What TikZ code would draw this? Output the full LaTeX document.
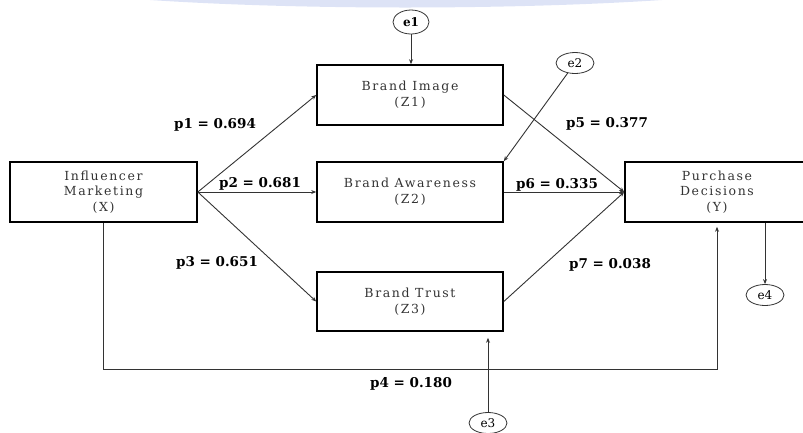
\documentclass[tikz,border=0pt]{standalone}
\usepackage{fontspec}
\setmainfont{DejaVu Serif}
\newfontfamily\boxfont[LetterSpace=13]{DejaVu Serif}
\usepackage{xcolor}
\usepackage{tikz}
\usetikzlibrary{shapes.geometric, arrows.meta, positioning, calc}
\definecolor{boxtext}{HTML}{333333}
\definecolor{linegray}{HTML}{333333}
\definecolor{bannerblue}{HTML}{DDE3F6}
\tikzset{
  varbox/.style={
    draw, line width=1.6pt, rectangle, align=center,
    font=\boxfont\fontsize{12.5}{14}\selectfont, text=boxtext,
    minimum width=186pt, minimum height=60pt, inner sep=0pt
  },
  errnode/.style={
    draw, ellipse, line width=0.8pt, draw=linegray,
    font=\fontsize{12}{13}\selectfont, minimum width=38pt,
    minimum height=21pt, inner sep=0pt
  },
  patharrow/.style={
    -{Stealth[length=5pt, width=4pt]}, line width=0.9pt, color=linegray
  },
  coeflabel/.style={
    font=\bfseries\fontsize{13.5}{15}\selectfont, inner sep=0pt
  },
}

\begin{document}
\begin{tikzpicture}[x=1pt, y=-1pt]
  \clip (0,0) rectangle (803,432);

  % ── Banner at the top edge ─────────────────────────────────────
  \fill[bannerblue] (150,0) .. controls (300,10) and (510,10) .. (662,0) -- cycle;

  % ── Variables ──────────────────────────────────────────────────
  \node[varbox, minimum width=187pt] (infl) at (103.5,192)
    {Influencer\\[1.5pt]Marketing\\[1.5pt](X)};
  \node[varbox] (image) at (410,95) {Brand Image\\[2pt](Z1)};
  \node[varbox] (aware) at (410,192) {Brand Awareness\\[2pt](Z2)};
  \node[varbox, minimum height=59pt] (trust) at (410,301.5)
    {Brand Trust\\[2pt](Z3)};
  \node[varbox, minimum width=184pt] (purch) at (717,192)
    {Purchase\\[1.5pt]Decisions\\[1.5pt](Y)};

  % ── Error terms ────────────────────────────────────────────────
  \node[errnode, font=\bfseries\fontsize{12}{13}\selectfont,
        minimum width=36pt, minimum height=24pt] (e1) at (411,22) {e1};
  \node[errnode] (e2) at (575,63) {e2};
  \node[errnode] (e3) at (488,423) {e3};
  \node[errnode] (e4) at (765,295) {e4};

  % ── Paths X -> Z ───────────────────────────────────────────────
  \draw[patharrow] (infl.east) -- (image.west);
  \draw[patharrow] (infl.east) -- (aware.west);
  \draw[patharrow] (infl.east) -- (trust.west);

  % ── Paths Z -> Y ───────────────────────────────────────────────
  \draw[patharrow] (image.east) -- (purch.west);
  \draw[patharrow] (aware.east) -- (purch.west);
  \draw[patharrow] (trust.east) -- (purch.west);

  % Direct path X -> Y
  \coordinate (p4row) at (0,369);
  \draw[patharrow, shorten >=4pt]
    (infl.south) -- (infl.south |- p4row) -- (purch.south |- p4row)
    -- (purch.south);

  % ── Error arrows ───────────────────────────────────────────────
  \draw[patharrow] (e1.south) -- (e1.south |- image.north);
  \draw[patharrow] (e2) -- (aware.north east);
  \draw[patharrow, shorten >=6pt] (e3.north) -- (e3.north |- trust.south);
  \draw[patharrow] (e4.north |- purch.south) -- (e4.north);

  % ── Coefficients ───────────────────────────────────────────────
  \node[coeflabel] (lp1) at (215,125) {p1 = 0.694};
  \node[coeflabel] (lp2) at (260,184) {p2 = 0.681};
  \node[coeflabel] (lp3) at (217,263) {p3 = 0.651};
  \node[coeflabel] (lp4) at (411,384) {p4 = 0.180};
  \node[coeflabel] (lp5) at (607,124) {p5 = 0.377};
  \node[coeflabel] (lp6) at (557,185) {p6 = 0.335};
  \node[coeflabel] (lp7) at (610,265) {p7 = 0.038};
\end{tikzpicture}
\end{document}
